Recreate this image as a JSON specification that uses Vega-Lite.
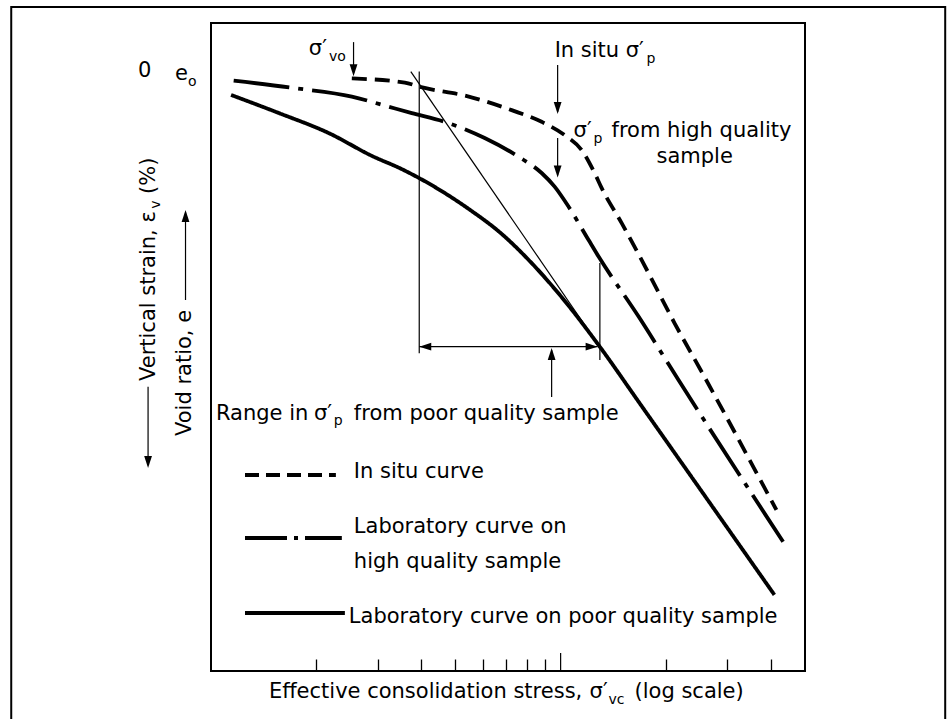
{
  "$schema": "https://vega.github.io/schema/vega-lite/v6.json",
  "width": 594,
  "height": 648,
  "autosize": {"type": "none"},
  "padding": {"left": 211, "top": 23, "right": 147, "bottom": 48},
  "background": "white",
  "config": {
    "view": {"stroke": "black", "strokeWidth": 2},
    "font": "DejaVu Sans"
  },
  "resolve": {"scale": {"strokeDash": "independent"}},
  "datasets": {
    "frame": [{"x": 0.02683, "x2": 12.589, "y": 2.049, "y2": -0.3}],
    "curves": [
      {"c": "In situ curve", "x": 0.2528, "y": 1.829},
      {"c": "In situ curve", "x": 0.3583, "y": 1.816},
      {"c": "In situ curve", "x": 0.3956, "y": 1.803},
      {"c": "In situ curve", "x": 0.546, "y": 1.773},
      {"c": "In situ curve", "x": 0.7244, "y": 1.731},
      {"c": "In situ curve", "x": 0.8825, "y": 1.695},
      {"c": "In situ curve", "x": 1.0267, "y": 1.654},
      {"c": "In situ curve", "x": 1.1482, "y": 1.608},
      {"c": "In situ curve", "x": 1.2506, "y": 1.537},
      {"c": "In situ curve", "x": 1.3097, "y": 1.491},
      {"c": "In situ curve", "x": 1.4937, "y": 1.383},
      {"c": "In situ curve", "x": 1.7844, "y": 1.228},
      {"c": "In situ curve", "x": 2.117, "y": 1.074},
      {"c": "In situ curve", "x": 2.5786, "y": 0.908},
      {"c": "In situ curve", "x": 4.1418, "y": 0.497},
      {"c": "Laboratory curve on high quality sample", "x": 0.1161, "y": 1.822},
      {"c": "Laboratory curve on high quality sample", "x": 0.1738, "y": 1.799},
      {"c": "Laboratory curve on high quality sample", "x": 0.2528, "y": 1.773},
      {"c": "Laboratory curve on high quality sample", "x": 0.3143, "y": 1.745},
      {"c": "Laboratory curve on high quality sample", "x": 0.3753, "y": 1.722},
      {"c": "Laboratory curve on high quality sample", "x": 0.4662, "y": 1.695},
      {"c": "Laboratory curve on high quality sample", "x": 0.6064, "y": 1.645},
      {"c": "Laboratory curve on high quality sample", "x": 0.7586, "y": 1.587},
      {"c": "Laboratory curve on high quality sample", "x": 0.8825, "y": 1.537},
      {"c": "Laboratory curve on high quality sample", "x": 0.9613, "y": 1.495},
      {"c": "Laboratory curve on high quality sample", "x": 1.054, "y": 1.433},
      {"c": "Laboratory curve on high quality sample", "x": 1.2023, "y": 1.33},
      {"c": "Laboratory curve on high quality sample", "x": 1.284, "y": 1.279},
      {"c": "Laboratory curve on high quality sample", "x": 1.6711, "y": 1.094},
      {"c": "Laboratory curve on high quality sample", "x": 2.1737, "y": 0.898},
      {"c": "Laboratory curve on high quality sample", "x": 4.3285, "y": 0.399},
      {"c": "Laboratory curve on poor quality sample", "x": 0.1141, "y": 1.778},
      {"c": "Laboratory curve on poor quality sample", "x": 0.1564, "y": 1.722},
      {"c": "Laboratory curve on poor quality sample", "x": 0.2174, "y": 1.66},
      {"c": "Laboratory curve on poor quality sample", "x": 0.2884, "y": 1.59},
      {"c": "Laboratory curve on poor quality sample", "x": 0.3513, "y": 1.549},
      {"c": "Laboratory curve on poor quality sample", "x": 0.4365, "y": 1.494},
      {"c": "Laboratory curve on poor quality sample", "x": 0.546, "y": 1.426},
      {"c": "Laboratory curve on poor quality sample", "x": 0.6783, "y": 1.349},
      {"c": "Laboratory curve on poor quality sample", "x": 0.8263, "y": 1.259},
      {"c": "Laboratory curve on poor quality sample", "x": 1.0066, "y": 1.154},
      {"c": "Laboratory curve on poor quality sample", "x": 1.284, "y": 1.006},
      {"c": "Laboratory curve on poor quality sample", "x": 1.7042, "y": 0.818},
      {"c": "Laboratory curve on poor quality sample", "x": 4.0877, "y": 0.235}
    ],
    "thin": [
      {"s": "vo", "x": 0.2557, "y": 1.941}, {"s": "vo", "x": 0.2557, "y": 1.846},
      {"s": "is", "x": 0.9805, "y": 1.87}, {"s": "is", "x": 0.9805, "y": 1.725},
      {"s": "hq", "x": 0.9805, "y": 1.645}, {"s": "hq", "x": 0.9805, "y": 1.53},
      {"s": "up", "x": 0.9425, "y": 0.846}, {"s": "up", "x": 0.9425, "y": 0.99},
      {"s": "h", "x": 0.3941, "y": 1.001}, {"s": "h", "x": 1.2757, "y": 1.001},
      {"s": "lv", "x": 0.3941, "y": 1.85}, {"s": "lv", "x": 0.3941, "y": 0.981},
      {"s": "rv", "x": 1.295, "y": 1.259}, {"s": "rv", "x": 1.295, "y": 0.96},
      {"s": "tg", "x": 0.3728, "y": 1.85}, {"s": "tg", "x": 1.2264, "y": 1.037},
      {"s": "ev", "x": 0.06607, "y": 0.877}, {"s": "ev", "x": 0.06607, "y": 0.635},
      {"s": "vr", "x": 0.08455, "y": 1.145}, {"s": "vr", "x": 0.08455, "y": 1.415},
      {"s": "t1", "x": 1, "y": 0}, {"s": "t1", "x": 1, "y": 0.0556}
    ],
    "heads": [
      {"x": 0.2557, "y": 1.836, "d": "down"},
      {"x": 0.9805, "y": 1.719, "d": "down"},
      {"x": 0.9805, "y": 1.523, "d": "down"},
      {"x": 0.9425, "y": 0.997, "d": "up"},
      {"x": 0.3941, "y": 1.001, "d": "left"},
      {"x": 1.2757, "y": 1.001, "d": "right"},
      {"x": 0.06607, "y": 0.6265, "d": "down"},
      {"x": 0.08455, "y": 1.423, "d": "up"}
    ],
    "legend": [
      {"c": "In situ curve", "x": 0.1251, "y": 0.605},
      {"c": "In situ curve", "x": 0.2276, "y": 0.605},
      {"c": "Laboratory curve on high quality sample", "x": 0.1251, "y": 0.4105},
      {"c": "Laboratory curve on high quality sample", "x": 0.2367, "y": 0.4105},
      {"c": "Laboratory curve on poor quality sample", "x": 0.1251, "y": 0.179},
      {"c": "Laboratory curve on poor quality sample", "x": 0.2415, "y": 0.179}
    ],
    "texts": [
      {"x": 0.06185, "y": 1.833, "t": "0"},
      {"x": 0.07888, "y": 1.824, "t": "e"},
      {"x": 0.1905, "y": 1.901, "t": "σ′"},
      {"x": 0.9613, "y": 1.895, "t": "In situ σ′"},
      {"x": 1.0893, "y": 1.648, "t": "σ′"},
      {"x": 1.3985, "y": 1.648, "t": "from high quality"},
      {"x": 1.88, "y": 1.568, "t": "sample"},
      {"x": 0.1033, "y": 0.7747, "t": "Range in"},
      {"x": 0.1969, "y": 0.7747, "t": "σ′"},
      {"x": 0.2562, "y": 0.7747, "t": "from poor quality sample"},
      {"x": 0.2562, "y": 0.5957, "t": "In situ curve"},
      {"x": 0.2562, "y": 0.4259, "t": "Laboratory curve on"},
      {"x": 0.2562, "y": 0.3179, "t": "high quality sample"},
      {"x": 0.2479, "y": 0.1481, "t": "Laboratory curve on poor quality sample"},
      {"x": 0.1464, "y": -0.0833, "t": "Effective consolidation stress,"},
      {"x": 1.2104, "y": -0.0833, "t": "σ′"},
      {"x": 1.6268, "y": -0.0833, "t": "(log scale)"}
    ],
    "subs": [
      {"x": 0.08596, "y": 1.8056, "t": "o"},
      {"x": 0.2174, "y": 1.8827, "t": "vo"},
      {"x": 1.761, "y": 1.8765, "t": "p"},
      {"x": 1.2424, "y": 1.6296, "t": "p"},
      {"x": 0.2246, "y": 0.7593, "t": "p"},
      {"x": 1.3713, "y": -0.1019, "t": "vc"}
    ],
    "rot": [
      {"x": 0.06918, "y": 0.8951, "t": "Vertical strain, ε"},
      {"x": 0.06918, "y": 1.4722, "t": "(%)"},
      {"x": 0.08768, "y": 0.7253, "t": "Void ratio, e"}
    ],
    "rotsub": [
      {"x": 0.0715, "y": 1.4269, "t": "v"}
    ]
  },
  "encoding": {
    "x": {
      "field": "x", "type": "quantitative", "title": null,
      "scale": {"type": "log", "domain": [0.1, 5], "nice": false},
      "axis": {"title": null, "domain": false, "grid": false, "labels": false, "ticks": true, "tickSize": -12, "tickWidth": 1.3, "tickColor": "black", "values": [0.2, 0.3, 0.4, 0.5, 0.6, 0.7, 0.8, 0.9, 2, 3, 4]}
    },
    "y": {
      "field": "y", "type": "quantitative", "title": null,
      "scale": {"domain": [0, 2], "nice": false, "zero": false},
      "axis": {"title": null, "domain": false, "grid": false, "labels": false, "ticks": false}
    }
  },
  "layer": [
    {
      "data": {"name": "frame"},
      "mark": {"type": "rect", "fill": null, "fillOpacity": 0, "stroke": "black", "strokeWidth": 2},
      "encoding": {"x2": {"field": "x2"}, "y2": {"field": "y2"}}
    },
    {
      "data": {"name": "curves"},
      "mark": {"type": "line", "color": "black", "strokeWidth": 3.8, "strokeCap": "butt", "interpolate": "monotone"},
      "encoding": {
        "strokeDash": {
          "field": "c", "type": "nominal", "legend": null,
          "scale": {"domain": ["In situ curve", "Laboratory curve on high quality sample", "Laboratory curve on poor quality sample"], "range": [[15, 8], [56, 9, 5, 9], [1, 0]]}
        }
      }
    },
    {
      "data": {"name": "thin"},
      "mark": {"type": "line", "color": "black", "strokeWidth": 1.2},
      "encoding": {"detail": {"field": "s", "type": "nominal"}}
    },
    {
      "data": {"name": "heads"},
      "mark": {"type": "point", "filled": true, "color": "black", "opacity": 1, "size": 36},
      "encoding": {
        "shape": {
          "field": "d", "type": "nominal", "legend": null,
          "scale": {"domain": ["down", "up", "left", "right"], "range": ["M-1.3,-4L1.3,-4L0,0Z", "M-1.3,4L1.3,4L0,0Z", "M4,-1.3L4,1.3L0,0Z", "M-4,-1.3L-4,1.3L0,0Z"]}
        }
      }
    },
    {
      "data": {"name": "legend"},
      "mark": {"type": "line", "color": "black", "strokeWidth": 3.8, "strokeCap": "butt"},
      "encoding": {
        "strokeDash": {
          "field": "c", "type": "nominal", "legend": null,
          "scale": {"domain": ["In situ curve", "Laboratory curve on high quality sample", "Laboratory curve on poor quality sample"], "range": [[14, 7], [42, 7, 4, 7], [1, 0]]}
        }
      }
    },
    {
      "data": {"name": "texts"},
      "mark": {"type": "text", "align": "left", "baseline": "alphabetic", "fontSize": 21, "font": "DejaVu Sans", "color": "black"},
      "encoding": {"text": {"field": "t", "type": "nominal"}}
    },
    {
      "data": {"name": "subs"},
      "mark": {"type": "text", "align": "left", "baseline": "alphabetic", "fontSize": 14, "font": "DejaVu Sans", "color": "black"},
      "encoding": {"text": {"field": "t", "type": "nominal"}}
    },
    {
      "data": {"name": "rot"},
      "mark": {"type": "text", "align": "left", "baseline": "alphabetic", "angle": 270, "fontSize": 21, "font": "DejaVu Sans", "color": "black"},
      "encoding": {"text": {"field": "t", "type": "nominal"}}
    },
    {
      "data": {"name": "rotsub"},
      "mark": {"type": "text", "align": "left", "baseline": "alphabetic", "angle": 270, "fontSize": 14, "font": "DejaVu Sans", "color": "black"},
      "encoding": {"text": {"field": "t", "type": "nominal"}}
    }
  ]
}
